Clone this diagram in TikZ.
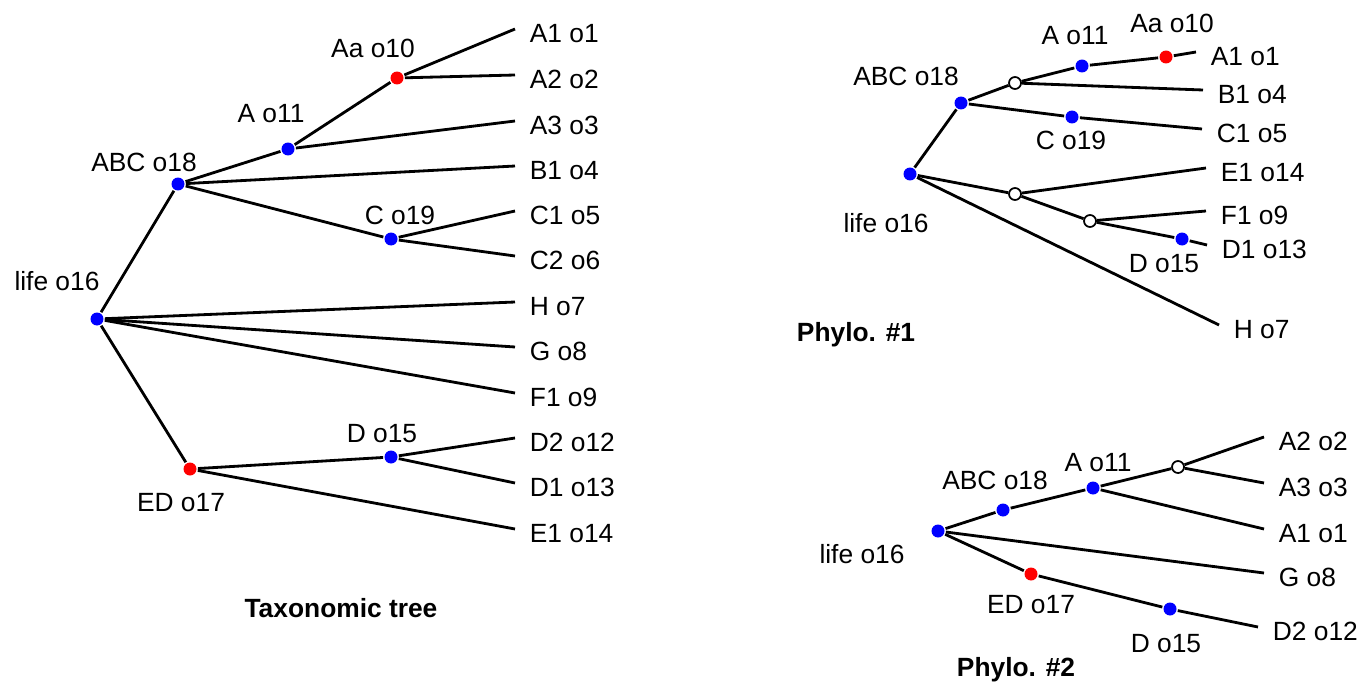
\documentclass[tikz,border=0pt]{standalone}
\usepackage{fontspec}
\setmainfont{Liberation Sans}
\begin{document}
\begin{tikzpicture}[
                x=0.02cm, y=-0.02cm,
                font=\fontsize{15pt}{18pt}\selectfont,
                line width=1.6pt,
                bluedot/.style={circle, fill=blue, inner sep=0pt, minimum size=0.26cm},
                reddot/.style={bluedot, fill=red},
                hollow/.style={circle, draw, fill=white, line width=1pt, inner sep=0pt, minimum size=0.24cm},
                lbl/.style={inner sep=0pt, text depth=0pt},
                ttl/.style={lbl, font=\fontsize{15pt}{18pt}\selectfont\bfseries},
                every label/.style={lbl, yshift=-0.08cm},
                label distance=0.27cm,
            ]
            \useasboundingbox (0,0) rectangle (1362,686);

            \node[bluedot] (tlife) at (97,319) {};
            \node[bluedot] (tabc) at (178,184) {};
            \node[bluedot] (ta) at (288,149) {};
            \node[reddot] (taa) at (397,78) {};
            \node[bluedot] (tc) at (391,239) {};
            \node[reddot] (ted) at (190,469) {};
            \node[bluedot] (td) at (391,457) {};
            \node[lbl] (tlifel) at (57,281) {life o16};
            \node[lbl] (tabcl) at (144,162) {ABC o18};
            \node[lbl] (tal) at (271,113) {A o11};
            \node[lbl] (taal) at (373,48) {Aa o10};
            \node[lbl] (tcl) at (400,215) {C o19};
            \node[lbl] (tedl) at (181,502) {ED o17};
            \node[lbl] (tdl) at (382,433) {D o15};
            \coordinate[label=right:A1 o1] (ta1) at (515,29);
            \coordinate[label=right:A2 o2] (ta2) at (515,75);
            \coordinate[label=right:A3 o3] (ta3) at (515,121);
            \coordinate[label=right:B1 o4] (tb1) at (515,166);
            \coordinate[label=right:C1 o5] (tc1) at (515,211);
            \coordinate[label=right:C2 o6] (tc2) at (515,256);
            \coordinate[label=right:H o7] (th) at (515,302);
            \coordinate[label=right:G o8] (tg) at (515,347);
            \coordinate[label=right:F1 o9] (tf1) at (515,393);
            \coordinate[label=right:D2 o12] (td2) at (515,438);
            \coordinate[label=right:D1 o13] (td1) at (515,483);
            \coordinate[label=right:E1 o14] (te1) at (515,529);
            \node[ttl] (taxo) at (341,608) {Taxonomic tree};
            \draw (tlife) -- (tabc);
            \draw (tlife) -- (th);
            \draw (tlife) -- (tg);
            \draw (tlife) -- (tf1);
            \draw (tlife) -- (ted);
            \draw (tabc) -- (ta);
            \draw (tabc) -- (tb1);
            \draw (tabc) -- (tc);
            \draw (ta) -- (taa);
            \draw (ta) -- (ta3);
            \draw (taa) -- (ta1);
            \draw (taa) -- (ta2);
            \draw (tc) -- (tc1);
            \draw (tc) -- (tc2);
            \draw (ted) -- (td);
            \draw (ted) -- (te1);
            \draw (td) -- (td2);
            \draw (td) -- (td1);

            \node[bluedot] (plife) at (910,174) {};
            \node[bluedot] (pabc) at (961,103) {};
            \node[hollow] (pn1) at (1015,83) {};
            \node[bluedot] (pa) at (1082,66) {};
            \node[reddot] (paa) at (1166,57) {};
            \node[bluedot] (pc) at (1072,117) {};
            \node[hollow] (pn2) at (1015,194) {};
            \node[hollow] (pn3) at (1090,221) {};
            \node[bluedot] (pd) at (1182,239) {};
            \node[lbl] (plifel) at (886,223) {life o16};
            \node[lbl] (pabcl) at (906,76) {ABC o18};
            \node[lbl] (pal) at (1075,35) {A o11};
            \node[lbl] (paal) at (1172,23) {Aa o10};
            \node[lbl] (pcl) at (1071,140) {C o19};
            \node[lbl] (pdl) at (1164,263) {D o15};
            \coordinate[label=right:A1 o1] (pa1) at (1196,52);
            \coordinate[label=right:B1 o4] (pb1) at (1203,90);
            \coordinate[label=right:C1 o5] (pc1) at (1202,129);
            \coordinate[label=right:E1 o14] (pe1) at (1206,168);
            \coordinate[label=right:F1 o9] (pf1) at (1206,211);
            \coordinate[label=right:D1 o13] (pd1) at (1207,245);
            \coordinate[label=right:H o7] (ph) at (1219,325);
            \node[ttl] (phylo1) at (856,332) {Phylo. \#1};
            \draw (plife) -- (pabc);
            \draw (plife) -- (pn2);
            \draw (plife) -- (ph);
            \draw (pabc) -- (pn1);
            \draw (pabc) -- (pc);
            \draw (pn1) -- (pa);
            \draw (pn1) -- (pb1);
            \draw (pa) -- (paa);
            \draw (paa) -- (pa1);
            \draw (pc) -- (pc1);
            \draw (pn2) -- (pe1);
            \draw (pn2) -- (pn3);
            \draw (pn3) -- (pf1);
            \draw (pn3) -- (pd);
            \draw (pd) -- (pd1);

            \node[bluedot] (qlife) at (938,531) {};
            \node[bluedot] (qabc) at (1003,510) {};
            \node[bluedot] (qa) at (1093,488) {};
            \node[hollow] (qn1) at (1178,467) {};
            \node[reddot] (qed) at (1031,574) {};
            \node[bluedot] (qd) at (1170,609) {};
            \node[lbl] (qlifel) at (862,554) {life o16};
            \node[lbl] (qabcl) at (995,480) {ABC o18};
            \node[lbl] (qal) at (1098,462) {A o11};
            \node[lbl] (qedl) at (1031,604) {ED o17};
            \node[lbl] (qdl) at (1166,643) {D o15};
            \coordinate[label=right:A2 o2] (qa2) at (1264,437);
            \coordinate[label=right:A3 o3] (qa3) at (1264,483);
            \coordinate[label=right:A1 o1] (qa1) at (1264,529);
            \coordinate[label=right:G o8] (qg) at (1264,573);
            \coordinate[label=right:D2 o12] (qd2) at (1258,627);
            \node[ttl] (phylo2) at (1016,667) {Phylo. \#2};
            \draw (qlife) -- (qabc);
            \draw (qlife) -- (qg);
            \draw (qlife) -- (qed);
            \draw (qabc) -- (qa);
            \draw (qa) -- (qn1);
            \draw (qa) -- (qa1);
            \draw (qn1) -- (qa2);
            \draw (qn1) -- (qa3);
            \draw (qed) -- (qd);
            \draw (qd) -- (qd2);
\end{tikzpicture}
\end{document}
